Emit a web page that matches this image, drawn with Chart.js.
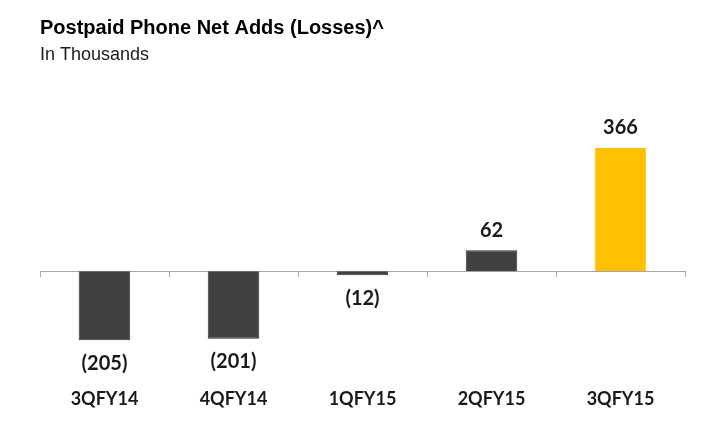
<!DOCTYPE html>
<html>
<head>
<meta charset="utf-8">
<script src="https://cdn.jsdelivr.net/npm/chart.js"></script>
<style>
  body { margin: 0; background: #fff; }
  #wrap { width: 710px; height: 435px; position: relative; }
</style>
</head>
<body>
<div id="wrap"><canvas id="myChart"></canvas></div>
<script>
let quarters = ['3QFY14', '4QFY14', '1QFY15', '2QFY15', '3QFY15'];
let netAdds = [-205, -201, -12, 62, 366];
let barColors = ['#404040', '#404040', '#404040', '#404040', '#FFC000'];

// value labels: "(205)" below negative bars, plain number above positive ones
let valueLabels = {
    id: 'valueLabels',
    afterDatasetsDraw(chart) {
        let ctx = chart.ctx;
        let meta = chart.getDatasetMeta(0);
        ctx.save();
        ctx.font = 'bold 20px Lato';
        ctx.fillStyle = '#1a1a1a';
        ctx.textAlign = 'center';
        ctx.textBaseline = 'middle';
        meta.data.forEach((bar, i) => {
            let v = netAdds[i];
            if (v < 0) {
                ctx.fillText('(' + Math.abs(v) + ')', bar.x, bar.y + 23);
            } else {
                ctx.fillText(String(v), bar.x, bar.y - 20);
            }
        });
        ctx.restore();
    }
};

let myChart = document.getElementById('myChart').getContext('2d');
let chart = new Chart(myChart, {
    type: 'bar',
    data: {
        labels: quarters,
        datasets: [{
            data: netAdds,
            backgroundColor: barColors,
            borderColor: ['#333333', '#333333', '#333333', '#333333', '#FFC000'],
            borderWidth: 1,
            categoryPercentage: 1,
            barPercentage: 0.4
        }]
    },
    plugins: [valueLabels],
    options: {
        responsive: true,
        maintainAspectRatio: false,
        animation: false,
        layout: {
            padding: { left: 40, right: 25, top: 0, bottom: 14 }
        },
        scales: {
            y: {
                display: false,
                min: -292,
                max: 596
            },
            x: {
                type: 'category',
                position: { y: 0 },
                offset: true,
                grid: {
                    offset: true,
                    drawOnChartArea: false,
                    drawTicks: true,
                    tickLength: 5,
                    color: '#A6A6A6'
                },
                border: { display: true, color: '#A6A6A6', width: 1 },
                ticks: { display: false }
            },
            x2: {
                type: 'category',
                position: 'bottom',
                offset: true,
                grid: { display: false },
                border: { display: false },
                ticks: {
                    padding: 11,
                    color: '#1a1a1a',
                    font: { family: 'Lato', size: 18, weight: 'bold' }
                }
            }
        },
        plugins: {
            legend: { display: false },
            tooltip: { enabled: false },
            title: {
                display: true,
                text: 'Postpaid Phone Net Adds (Losses)^',
                align: 'start',
                color: '#000',
                font: { family: 'Liberation Sans', size: 20, weight: 'bold' },
                padding: { top: 16, bottom: 0 }
            },
            subtitle: {
                display: true,
                text: 'In Thousands',
                align: 'start',
                color: '#1a1a1a',
                font: { family: 'Liberation Sans', size: 18 },
                padding: { top: 4, bottom: 5 }
            }
        }
    }
});
</script>
</body>
</html>
